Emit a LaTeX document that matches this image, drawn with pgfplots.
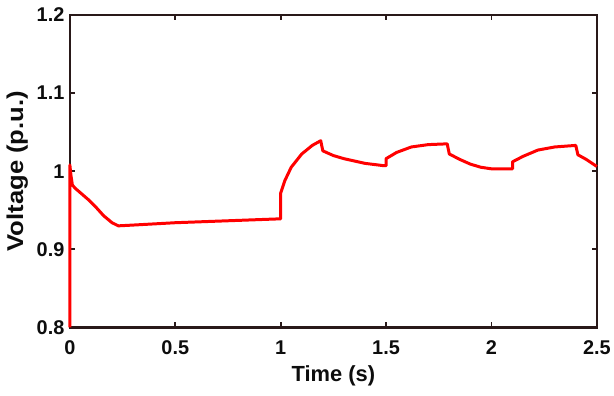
\documentclass[border=0pt]{standalone}
\usepackage{fontspec}
\setmainfont{Liberation Sans}
\usepackage{pgfplots}
\pgfplotsset{compat=1.18}
\definecolor{frm}{rgb}{0.16,0.10,0.10}
\definecolor{blk}{rgb}{0.05,0.05,0.05}
\definecolor{myred}{rgb}{1,0,0}
\begin{document}
\begin{tikzpicture}
\path (-70bp,-68bp) rectangle (544bp,328bp);
\begin{axis}[
  at={(0,0)}, anchor=south west,
  scale only axis, width=528bp, height=313bp,
  xmin=0, xmax=2.5, ymin=0.8, ymax=1.2,
  xtick={0,0.5,1,1.5,2,2.5},
  ytick={0.8,0.9,1,1.1,1.2},
  xticklabels={0,0.5,1,1.5,2,2.5},
  yticklabels={0.8,0.9,1,1.1,1.2},
  tick align=inside, major tick length=5bp,
  axis line style={draw=frm, line width=2.4bp},
  tick style={draw=frm, line width=1.8bp},
  tick label style={font=\fontsize{20}{20}\selectfont\bfseries, text=blk},
  xticklabel style={yshift=-10bp},
  yticklabel style={xshift=-2bp},
  xlabel={Time (s)}, ylabel={Voltage (p.u.)},
  xlabel style={font=\fontsize{22}{22}\selectfont\bfseries, text=blk, yshift=-4bp},
  ylabel style={font=\fontsize{23}{23}\selectfont\bfseries, text=blk, yshift=2bp, xscale=1.12},
  clip=false,
]
\addplot[myred, line width=3bp, line join=round] coordinates {
(0,0.8) (0,1.008) (0.005,0.995) (0.012,0.982) (0.03,0.977) (0.06,0.970) (0.09,0.963) (0.12,0.955) (0.16,0.943) (0.2,0.934) (0.23,0.930) (0.3,0.931) (0.5,0.934) (0.7,0.936) (0.9,0.938) (1.0,0.939)
(1.0,0.972) (1.02,0.988) (1.05,1.005) (1.1,1.022) (1.15,1.033) (1.19,1.039) (1.2,1.026) (1.25,1.020) (1.3,1.016) (1.4,1.010) (1.49,1.007)
(1.5,1.007) (1.5,1.016) (1.55,1.024) (1.62,1.031) (1.7,1.034) (1.79,1.035) (1.8,1.022) (1.85,1.015) (1.9,1.009) (1.95,1.005) (2.0,1.003) (2.1,1.003)
(2.1,1.012) (2.15,1.019) (2.22,1.027) (2.3,1.031) (2.4,1.033) (2.41,1.021) (2.45,1.015) (2.5,1.006)
};
\end{axis}
\end{tikzpicture}
\end{document}
